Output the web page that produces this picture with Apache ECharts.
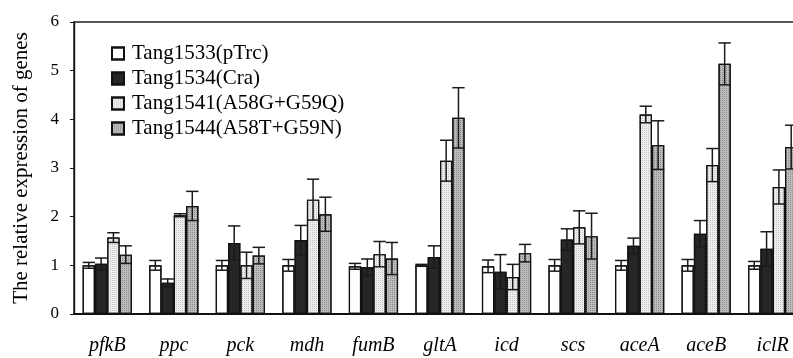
<!DOCTYPE html>
<html>
<head>
<meta charset="utf-8">
<script src="https://cdn.jsdelivr.net/npm/echarts@6/dist/echarts.min.js"></script>
<style>
  html, body { margin: 0; padding: 0; background: #fff; }
  #chart { width: 793px; height: 358px; }
</style>
</head>
<body>
<div id="chart"></div>
<script>
var categories = ['pfkB', 'ppc', 'pck', 'mdh', 'fumB', 'gltA', 'icd', 'scs', 'aceA', 'aceB', 'iclR'];
var seriesNames = ['Tang1533(pTrc)', 'Tang1534(Cra)', 'Tang1541(A58G+G59Q)', 'Tang1544(A58T+G59N)'];

var tang1533 = [1.0, 1.0, 1.0, 1.0, 0.98, 1.0, 0.98, 1.0, 1.0, 1.0, 1.0];
var tang1533Err = [0.06, 0.1, 0.1, 0.12, 0.06, 0.02, 0.13, 0.12, 0.1, 0.12, 0.08];
var tang1534 = [1.03, 0.64, 1.46, 1.52, 0.96, 1.17, 0.87, 1.53, 1.4, 1.65, 1.34];
var tang1534Err = [0.12, 0.08, 0.35, 0.3, 0.17, 0.23, 0.35, 0.22, 0.16, 0.27, 0.35];
var tang1541 = [1.57, 2.03, 1.0, 2.35, 1.23, 3.15, 0.76, 1.78, 4.1, 3.06, 2.61];
var tang1541Err = [0.1, 0.03, 0.27, 0.42, 0.26, 0.42, 0.26, 0.34, 0.17, 0.34, 0.35];
var tang1544 = [1.22, 2.22, 1.2, 2.05, 1.14, 4.03, 1.25, 1.6, 3.47, 5.14, 3.43];
var tang1544Err = [0.18, 0.3, 0.17, 0.35, 0.33, 0.62, 0.18, 0.47, 0.5, 0.43, 0.45];

var yTicks = [0, 1, 2, 3, 4, 5, 6];

var values = [tang1533, tang1534, tang1541, tang1544];
var errors = [tang1533Err, tang1534Err, tang1541Err, tang1544Err];

var serif = "'Liberation Serif', 'Times New Roman', serif";
var catGap = 0.26; // barCategoryGap

// fills: white, black, light dotted, grey dotted
var fills = [
  { color: '#ffffff', decal: { symbol: 'none' } },
  { color: '#262626', decal: { symbol: 'none' } },
  { color: '#eeeeee', decal: { symbol: 'rect', symbolSize: 1, dashArrayX: [1, 1], dashArrayY: [1, 1], color: '#c4c4c4', rotation: 0 } },
  { color: '#bdbdbd', decal: { symbol: 'rect', symbolSize: 1, dashArrayX: [1, 1], dashArrayY: [1, 1], color: '#8a8a8a', rotation: 0 } }
];

var barSeries = values.map(function (arr, i) {
  return {
    name: seriesNames[i],
    type: 'bar',
    data: arr,
    barGap: '0%',
    barCategoryGap: (catGap * 100) + '%',
    itemStyle: {
      color: fills[i].color,
      borderColor: '#111',
      borderWidth: 1.2,
      decal: fills[i].decal
    },
    z: 2
  };
});

// error bars: [category index, mean, sd, series index]
var errData = [];
values.forEach(function (arr, s) {
  arr.forEach(function (v, c) {
    errData.push([c, v, errors[s][c], s]);
  });
});

var errSeries = {
  type: 'custom',
  name: 'err',
  z: 5,
  data: errData,
  encode: { x: 0, y: [1] },
  renderItem: function (params, api) {
    var c = api.value(0), v = api.value(1), e = api.value(2), s = api.value(3);
    var catW = api.size([1, 0])[0];
    var barW = catW * (1 - catGap) / 4;
    var center = api.coord([c, 0])[0];
    var cx = center - 2 * barW + barW * (s + 0.5);
    var yHi = api.coord([c, v + e])[1];
    var yLo = api.coord([c, v - e])[1];
    var half = barW / 2;
    var st = { stroke: '#1a1a1a', lineWidth: 1.5 };
    return {
      type: 'group',
      children: [
        { type: 'line', shape: { x1: cx, y1: yHi, x2: cx, y2: yLo }, style: st },
        { type: 'line', shape: { x1: cx - half, y1: yHi, x2: cx + half, y2: yHi }, style: st },
        { type: 'line', shape: { x1: cx - half, y1: yLo, x2: cx + half, y2: yLo }, style: st }
      ]
    };
  }
};

var option = {
  animation: false,
  aria: { enabled: true, decal: { show: true } },
  grid: {
    left: 74,
    width: 732,  // the right edge of the plot runs past the window
    top: 22,
    bottom: 44,
    outerBoundsMode: 'none',
    show: true,
    borderColor: '#222',
    borderWidth: 1.4,
    backgroundColor: '#fff'
  },
  legend: {
    data: seriesNames,
    orient: 'vertical',
    left: 106,
    top: 38,
    icon: 'rect',
    itemWidth: 12,
    itemHeight: 12,
    itemGap: 4,
    textStyle: {
      fontFamily: serif,
      fontSize: 21,
      color: '#000',
      padding: [0, 0, 0, 3]
    }
  },
  xAxis: {
    type: 'category',
    data: categories,
    axisLine: { lineStyle: { color: '#111', width: 1.8 } },
    axisTick: { inside: true, length: 5, lineStyle: { color: '#111' } },
    axisLabel: {
      fontFamily: serif,
      fontStyle: 'italic',
      fontSize: 20,
      color: '#000',
      margin: 22
    }
  },
  yAxis: {
    type: 'value',
    min: yTicks[0],
    max: yTicks[yTicks.length - 1],
    interval: 1,
    name: 'The relative expression of genes',
    nameLocation: 'middle',
    nameRotate: 90,
    nameGap: 42,
    nameTextStyle: { fontFamily: serif, fontSize: 21, color: '#000' },
    axisLine: { show: true, lineStyle: { color: '#111', width: 1.4 } },
    axisTick: { show: true, length: 4, lineStyle: { color: '#111' } },
    axisLabel: { fontFamily: serif, fontSize: 17, color: '#000', margin: 15 },
    splitLine: { show: false }
  },
  series: barSeries.concat([errSeries])
};

var chart = echarts.init(document.getElementById('chart'));
chart.setOption(option);
</script>
</body>
</html>
